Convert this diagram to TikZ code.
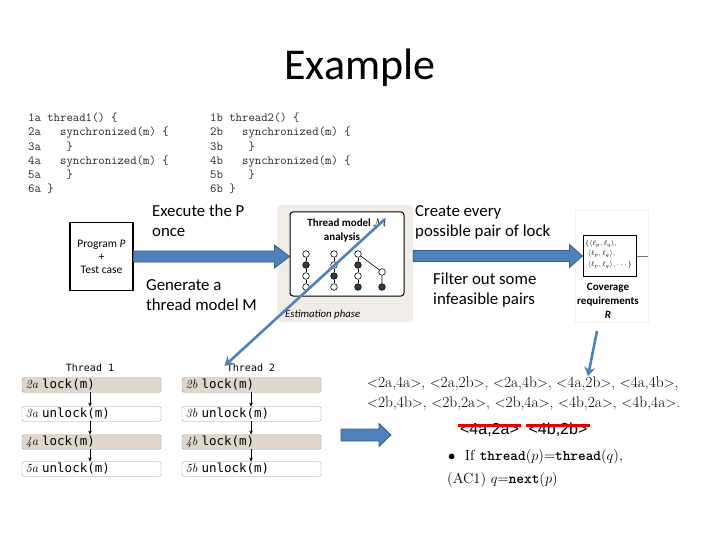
\documentclass[tikz,border=0pt]{standalone}
\usepackage{fontspec}
\usepackage{amsmath}
\newfontfamily\calib{Carlito}
\newfontfamily\dvm{DejaVu Sans Mono}
\newfontfamily\lsans{Liberation Sans}
\usetikzlibrary{arrows.meta,calc}
\definecolor{ablue}{HTML}{4F81BD}
\definecolor{aborder}{HTML}{385D8A}
\definecolor{panel}{HTML}{F0EDE8}
\definecolor{beige}{HTML}{DFD7CC}
\definecolor{rowborder}{HTML}{A0988C}
\definecolor{dot}{HTML}{2E3B4A}
\newcommand\blockarrow[5]{%
  \path[blockarrowstyle] let \p1=(#1), \p2=(#2) in
   (\x1,\y1+#3) -- (\x2-#5,\y1+#3) -- (\x2-#5,\y1+#4) -- (\x2,\y1)
   -- (\x2-#5,\y1-#4) -- (\x2-#5,\y1-#3) -- (\x1,\y1-#3) -- cycle;}
\begin{document}
\begin{tikzpicture}[x=1pt,y=-1pt,
  blockarrowstyle/.style={fill=ablue,draw=aborder,line width=0.8pt},
  codetext/.style={anchor=base west,inner sep=0pt,font=\fontsize{12.4}{14}\selectfont\ttfamily,text=black!85},
  label/.style={anchor=base west,inner sep=0pt,align=left,font=\calib\fontsize{16.8}{20.5}\selectfont},
  rowbox/.style={draw=rowborder,rounded corners=2pt,minimum width=139pt,minimum height=14.5pt,
     inner sep=0pt,text width=132pt,align=left,font=\fontsize{12.5}{12.5}\selectfont},
  lockrow/.style={rowbox,fill=beige},
  unlockrow/.style={rowbox,fill=white},
  thr/.style={inner sep=0pt,font=\dvm\fontsize{10}{10}\selectfont},
  oc/.style={circle,draw=black,fill=white,line width=0.6pt,minimum size=6.6pt,inner sep=0pt},
  fc/.style={circle,draw=black,fill=dot,line width=0.6pt,minimum size=6.6pt,inner sep=0pt},
  thinarrow/.style={draw=ablue,line width=2.6pt,-{Stealth[length=9pt,width=11pt]}},
  smallarrow/.style={-{Stealth[length=4pt,width=3.5pt]},line width=0.5pt}]
\useasboundingbox (0,0) rectangle (720,540);
\fill[white] (0,0) rectangle (720,540);

% title
\node[font=\calib\fontsize{44}{44}\selectfont,inner sep=0pt] (title) at (360,68) {Example};

% code
\begin{scope}
\clip (0,100) rectangle (400,193);
\foreach \i/\t in {1/{1a thread1() \{},2/{2a\ \ \ synchronized(m) \{},3/{3a\ \ \ \ \}},4/{4a\ \ \ synchronized(m) \{},5/{5a\ \ \ \ \}},6/{6a \}}}
  \node[codetext] (ca\i) at (28,{121.5+(\i-1)*14.3}) {\t};
\foreach \i/\t in {1/{1b thread2() \{},2/{2b\ \ \ synchronized(m) \{},3/{3b\ \ \ \ \}},4/{4b\ \ \ synchronized(m) \{},5/{5b\ \ \ \ \}},6/{6b \}}}
  \node[codetext] (cb\i) at (210,{121.5+(\i-1)*14.3}) {\t};
\end{scope}

% program box
\node[draw=black,line width=1.2pt,minimum width=63pt,minimum height=68pt,inner sep=0pt,
  align=center,font=\calib\fontsize{11.5}{13}\selectfont] (prog) at (101.5,256.5)
  {Program \textit{P}\\+\\Test case};

% estimation panel
\node[fill=panel,rounded corners=4pt,minimum width=136pt,minimum height=117pt,inner sep=0pt] (est) at (345,263.5) {};
\node[draw=black,fill=white,line width=1pt,rounded corners=3pt,minimum width=114pt,minimum height=84pt,inner sep=0pt] (model) at (347,254) {};
\node[font=\calib\bfseries\fontsize{11}{11}\selectfont,inner sep=0pt] (mt1) at (347,223) {Thread model $\mathcal{M}$};
\node[font=\calib\bfseries\fontsize{11}{11}\selectfont,inner sep=0pt] (mt2) at (342,238) {analysis};
\node[anchor=base west,font=\calib\itshape\fontsize{10.8}{10.8}\selectfont,inner sep=0pt] (estlab) at (285,317) {Estimation phase};

% thread model graph
\node[oc] (g11) at (306,254) {}; \node[fc] (g12) at (306,265) {}; \node[oc] (g13) at (306,276) {}; \node[oc] (g14) at (306,287) {};
\node[oc] (g21) at (334,254) {}; \node[oc] (g22) at (334,265) {}; \node[fc] (g23) at (334,276) {}; \node[oc] (g24) at (334,287) {};
\node[oc] (g31) at (358,254) {}; \node[fc] (g32) at (358,265) {}; \node[oc] (g33) at (358,276) {}; \node[fc] (g34) at (358,287) {};
\node[oc] (g41) at (382,272) {}; \node[fc] (g42) at (382,287) {};
\foreach \c in {1,2,3}{
  \draw[line width=0.6pt] (g\c1) -- (g\c2) (g\c2) -- (g\c3) (g\c3) -- (g\c4);}
\draw[line width=0.6pt] (g41) -- (g42) (g31) -- (g41);

% coverage
\node[draw=black!5,fill=white,minimum width=73pt,minimum height=112pt,inner sep=0pt] (covpanel) at (611.5,266) {};
\node[draw=black,line width=1pt,fill=white,minimum width=53pt,minimum height=41pt,inner sep=0pt] (cov) at (609.5,256) {};
\node[anchor=north west,inner sep=0pt,align=left,font=\fontsize{6.8}{10.5}\selectfont] (covtxt) at (585,240)
  {$\{\langle\ell_p,\ell_q\rangle,$\\ $\ \langle\ell_p,\ell_q\rangle,$\\ $\ \langle\ell_p,\ell_q\rangle,\cdots\}$};
\draw[black!55,line width=0.6pt] (cov.east) -- (covpanel.east |- cov.east);
\node[align=center,inner sep=0pt,font=\calib\bfseries\fontsize{11}{14}\selectfont] (covlab) at (608,301)
  {Coverage\\requirements\\\textit{R}};

% labels
\node[label] (l1) at (152,236.5) {Execute the P\\once};
\node[label] (l2) at (146,310.5) {Generate a\\thread model M};
\node[label] (l3) at (415,236.5) {Create every\\possible pair of lock};
\node[label] (l4) at (433,304.5) {Filter out some\\infeasible pairs};

% block arrows
\blockarrow{prog.east}{prog.east -| model.west}{5.5pt}{11.5pt}{15pt}
\blockarrow{cov.west -| est.east}{cov.west}{5.5pt}{11.5pt}{13pt}

% threads
\node[thr] (t1) at (90,368) {Thread 1};
\node[thr] (t2) at (251,368) {Thread 2};
\node[lockrow] (a1) at (91.5,385) {\itshape 2a\ \dvm\upshape lock(m)};
\node[unlockrow] (a2) at (91.5,414) {\itshape 3a\ \dvm\upshape unlock(m)};
\node[lockrow] (a3) at (91.5,442) {\itshape 4a\ \dvm\upshape lock(m)};
\node[unlockrow] (a4) at (91.5,469) {\itshape 5a\ \dvm\upshape unlock(m)};
\node[lockrow] (b1) at (251.5,385) {\itshape 2b\ \dvm\upshape lock(m)};
\node[unlockrow] (b2) at (251.5,414) {\itshape 3b\ \dvm\upshape unlock(m)};
\node[lockrow] (b3) at (251.5,442) {\itshape 4b\ \dvm\upshape lock(m)};
\node[unlockrow] (b4) at (251.5,469) {\itshape 5b\ \dvm\upshape unlock(m)};
\foreach \r/\s in {a1/a2,a2/a3,a3/a4}{\draw[smallarrow] (\r.south -| t1) -- (\s.north -| t1);}
\foreach \r/\s in {b1/b2,b2/b3,b3/b4}{\draw[smallarrow] (\r.south -| t2) -- (\s.north -| t2);}

% diagonal arrow
\coordinate (slashtop) at (385,219);
\draw[thinarrow,shorten >=-3pt] (slashtop) -- (t2.north west);

% pairs
\node[anchor=base west,inner sep=0pt,font=\fontsize{15.4}{15.4}\selectfont] (p1) at (367,387)
  {$<$2a,4a$>$, $<$2a,2b$>$, $<$2a,4b$>$, $<$4a,2b$>$, $<$4a,4b$>$,};
\node[anchor=base west,inner sep=0pt,font=\fontsize{15.4}{15.4}\selectfont] (p2) at (367,407)
  {$<$2b,4b$>$, $<$2b,2a$>$, $<$2b,4a$>$, $<$4b,2a$>$, $<$4b,4a$>$.};
\coordinate (covtail) at (597,331);
\draw[thinarrow] (covtail) -- (p1.north -| 588,0);

% arrow 3
\coordinate (a3s) at (341,435);
\coordinate (a3e) at (391,435);
\blockarrow{a3s}{a3e}{6pt}{11.5pt}{12pt}

% struck pairs
\node[inner sep=0pt,font=\lsans\fontsize{16}{16}\selectfont] (s1) at (489.5,430) {<4a,2a>};
\node[inner sep=0pt,font=\lsans\fontsize{16}{16}\selectfont] (s2) at (558,430) {<4b,2b>};
\draw[red!90!black,line width=3pt] ($(s1.west)+(-2,-5)$) -- ($(s1.east)+(2,-5)$);
\draw[red!90!black,line width=3pt] ($(s2.west)+(-2,-5)$) -- ($(s2.east)+(2,-5)$);

% conditions
\node[anchor=base west,inner sep=0pt,font=\fontsize{14.6}{14.6}\selectfont] (c1) at (448,460)
  {$\bullet$\ \ If \texttt{\bfseries thread}($p$)=\texttt{\bfseries thread}($q$),};
\node[anchor=base west,inner sep=0pt,font=\fontsize{14.6}{14.6}\selectfont] (c2) at (447,483)
  {(AC1)\ $q$=\texttt{\bfseries next}($p$)};
\end{tikzpicture}
\end{document}
